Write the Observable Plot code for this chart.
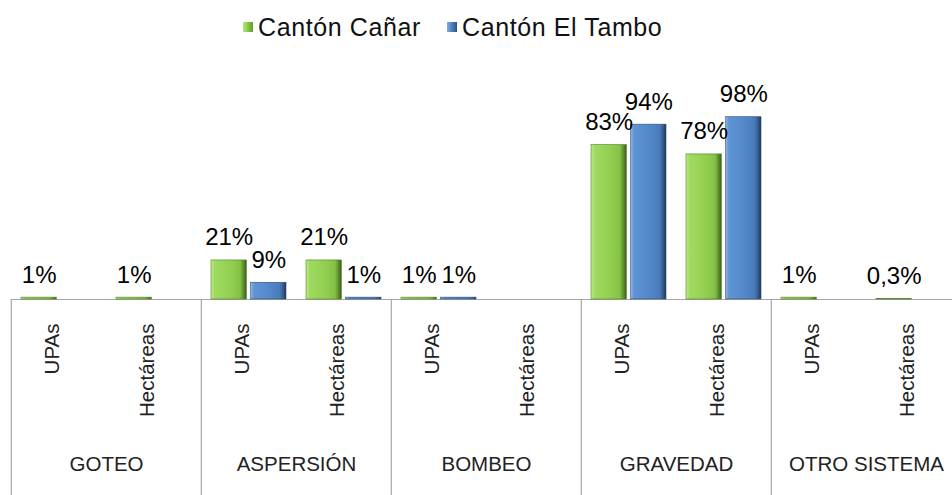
<!DOCTYPE html>
<html>
<head>
<meta charset="utf-8">
<script src="https://cdn.jsdelivr.net/npm/d3@7"></script>
<script src="https://cdn.jsdelivr.net/npm/@observablehq/plot@0.6"></script>
<style>
  html, body { margin: 0; padding: 0; background: #fff; overflow: hidden; width: 952px; height: 495px; }
  body { font-family: "Liberation Sans", Arial, sans-serif; }
  #legend { position: relative; height: 60px; }
  .item { position: absolute; top: 10px; display: flex; align-items: center; font-size: 25px; letter-spacing: 0.6px; color: #111; line-height: 34px; }
  .sw { width: 10px; height: 10px; margin-right: 5px; }
  #chart svg { max-width: none !important; display: block; }
</style>
</head>
<body>
<div id="legend"></div>
<div id="chart"></div>
<script>
// ---- data ----
const groups = ["GOTEO", "ASPERSIÓN", "BOMBEO", "GRAVEDAD", "OTRO SISTEMA"];
const subs = ["UPAs", "Hectáreas"];
const seriesNames = ["Cantón Cañar", "Cantón El Tambo"];
// values in %, order: group x sub (UPAs, Hectáreas)
const canar = [1, 1, 21, 21, 1, null, 83, 78, 1, 0.3];
const tambo = [null, null, 9, 1, 1, null, 94, 98, null, null];

const rows = [];
groups.forEach((g, gi) => subs.forEach((s, si) => {
  const i = gi * 2 + si;
  if (canar[i] != null) rows.push({group: g, sub: s, series: seriesNames[0], value: canar[i]});
  if (tambo[i] != null) rows.push({group: g, sub: s, series: seriesNames[1], value: tambo[i]});
}));
const fmt = v => String(v).replace(".", ",") + "%";
const rowsC = rows.filter(r => r.series === seriesNames[0]);
const rowsT = rows.filter(r => r.series === seriesNames[1]);

// legend
const legend = document.getElementById("legend");
const legendLeft = [243, 447];
const swFill = ["linear-gradient(90deg,#b5e67c,#92d050 40%,#5f9a2e 100%)", "linear-gradient(90deg,#86acdd,#5489cc 40%,#2e5283 100%)"];
seriesNames.forEach((n, i) => {
  const d = document.createElement("div");
  d.className = "item";
  d.style.left = legendLeft[i] + "px";
  d.innerHTML = `<span class="sw" style="background:${swFill[i]}"></span><span>${n}</span>`;
  legend.appendChild(d);
});

const W = 963, H = 435, mTop = 53, mBottom = 196, mLeft = 9;
const inner = 0.21, outer = 0.105;
const step = (W - mLeft) / groups.length / (subs.length - inner + 2 * outer);
const bw = step * (1 - inner);
const gap = 4;
const half = bw / 2 + gap / 2;
const shift = (bw - half) / 2 + half - bw / 2; // offset from band center to half-bar center

const chart = Plot.plot({
  width: W,
  height: H,
  marginTop: mTop,
  marginBottom: mBottom,
  marginLeft: mLeft,
  marginRight: 0,
  style: {fontFamily: "'Liberation Sans', Arial, sans-serif", maxWidth: "none", background: "white"},
  fx: {domain: groups, padding: 0, axis: null},
  x: {domain: subs, paddingInner: inner, paddingOuter: outer, axis: null},
  y: {domain: [0, 100], axis: null},
  marks: [
    Plot.ruleY(groups, {fx: d => d, y: () => 0, stroke: "#a6a6a6", strokeWidth: 1.2}),
    Plot.ruleX(groups, {fx: d => d, x: () => subs[0], dx: -step / 2, insetTop: H - mTop - mBottom, insetBottom: -mBottom, stroke: "#a6a6a6", strokeWidth: 1.2}),
    Plot.barY(rowsC, {fx: "group", x: "sub", y: "value", fill: "url(#gGreen)", stroke: "#4f7d25", strokeWidth: 0.6, insetRight: half}),
    Plot.barY(rowsT, {fx: "group", x: "sub", y: "value", fill: "url(#gBlue)", stroke: "#2c4d7a", strokeWidth: 0.6, insetLeft: half}),
    Plot.text(rowsC, {fx: "group", x: "sub", y: "value", text: d => fmt(d.value), dx: -shift, dy: -15, lineAnchor: "bottom", fontSize: 24, fill: "#000"}),
    Plot.text(rowsT, {fx: "group", x: "sub", y: "value", text: d => fmt(d.value), dx: shift, dy: -15, lineAnchor: "bottom", fontSize: 24, fill: "#000"}),
    Plot.text(groups.flatMap(g => subs.map(s => ({group: g, sub: s}))), {fx: "group", x: "sub", text: "sub", frameAnchor: "bottom", rotate: -90, textAnchor: "end", dy: 24, fontSize: 20.5, fill: "#222"}),
    Plot.text(groups, {fx: d => d, text: d => d, frameAnchor: "bottom", dy: 171, fontSize: 20.5, fill: "#222"})
  ]
});
const svg = chart.tagName.toLowerCase() === "svg" ? chart : chart.querySelector("svg");
svg.insertAdjacentHTML("afterbegin", `<defs>
  <linearGradient id="gGreen" x1="0" x2="1" y1="0" y2="0">
    <stop offset="0" stop-color="#c2ec8e"/>
    <stop offset="0.1" stop-color="#9fdb60"/>
    <stop offset="0.5" stop-color="#94d152"/>
    <stop offset="0.82" stop-color="#84c247"/>
    <stop offset="0.92" stop-color="#5c8f2c"/>
    <stop offset="1" stop-color="#3a5c1a"/>
  </linearGradient>
  <linearGradient id="gBlue" x1="0" x2="1" y1="0" y2="0">
    <stop offset="0" stop-color="#8fb3e2"/>
    <stop offset="0.1" stop-color="#5e93d4"/>
    <stop offset="0.5" stop-color="#5489cc"/>
    <stop offset="0.82" stop-color="#4a7bbb"/>
    <stop offset="0.92" stop-color="#345a8c"/>
    <stop offset="1" stop-color="#1e3350"/>
  </linearGradient>
</defs>`);
svg.style.maxWidth = "none";
document.getElementById("chart").appendChild(chart);
</script>
</body>
</html>
